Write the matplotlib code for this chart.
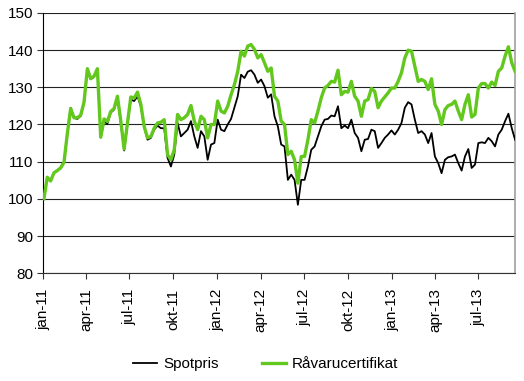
import matplotlib
matplotlib.use("Agg")
import matplotlib.pyplot as plt
import pandas as pd

plt.rcParams['font.family'] = ['Liberation Sans', 'DejaVu Sans']

# weekly index values, both series start at 100 in the first week of 2011
spotpris = [
    100, 105.8, 104.8, 107, 107.6, 108.5, 110, 117.5, 124.5, 121.8,
    121.5, 122.3, 125.8, 135, 132.2, 132.8, 134.8, 116.5, 120.8, 120.2,
    123.2, 124, 127.2, 120.5, 113, 120, 126.7, 126.3, 127.6, 124.9,
    119.3, 115.9, 116.4, 118.6, 119.7, 119, 119, 111, 108.7, 111.9,
    120.4, 116.8, 117.7, 118.6, 120.9, 116.8, 113.7, 118.2, 116.8, 110.5,
    114.6, 115, 121.3, 118.6, 118.2, 120, 121.5, 124.5, 127.6, 133.4,
    132.5, 134.2, 134.6, 133.4, 131.2, 132.1, 130.3, 127.2, 128.1, 122.2,
    119.5, 114.6, 114.1, 105.1, 106.5, 105.1, 98.4, 105.1, 105.1, 108.7,
    113.2, 114.1, 116.8, 119.5, 121.3, 121.5, 122.4, 122.2, 124.9, 119,
    119.7, 119, 121.3, 117.7, 116.4, 112.8, 115.9, 116.1, 118.6, 118.2,
    113.7, 115, 116.4, 117.3, 118.4, 117.3, 118.6, 120.4, 124.5, 126,
    125.4, 121.3, 117.7, 118.2, 117.3, 115, 117.7, 111.4, 109.6, 106.9,
    110.5, 111.2, 111.4, 111.9, 109.6, 107.6, 111.4, 113.4, 108.3, 109.2,
    115, 115.2, 115, 116.4, 115.5, 114.1, 117.3, 118.6, 120.9, 122.9,
    119, 115.9,
]

ravarucertifikat = [
    100, 105.8, 104.8, 107, 107.6, 108.3, 109.8, 117.5, 124.3, 121.8,
    121.8, 122.5, 126, 135, 132.3, 133, 135, 116.6, 121.5, 120.8,
    123.5, 124.3, 127.6, 121, 113.4, 120.3, 127.4, 127.1, 128.7, 125.4,
    119.5, 116.4, 116.8, 119, 120.4, 120.6, 121.3, 111.9, 110.5, 113.2,
    122.7, 121.3, 121.8, 122.7, 125.1, 120.9, 118.6, 122.2, 121.3, 116.4,
    120, 120, 126.3, 123.6, 123.1, 124.9, 128, 130.7, 134.3, 139.7,
    138.4, 141.1, 141.5, 140.2, 137.9, 138.8, 136.6, 134.3, 135.2, 127.6,
    126.3, 120.9, 120, 111.9, 112.8, 110.5, 104.2, 111.4, 111.4, 115.9,
    121.3, 120.4, 123.6, 127.2, 129.8, 130.5, 131.6, 131.4, 134.6, 128,
    128.9, 128.7, 131.6, 127.6, 126.3, 122.2, 126.3, 126.7, 129.7, 128.9,
    124.5, 126.3, 127.4, 128.5, 129.8, 129.8, 131.6, 133.9, 137.9, 140,
    139.7, 135.7, 131.6, 132.1, 131.6, 129.4, 132.3, 125.4, 123.6, 120,
    124, 125.1, 125.4, 126.3, 123.6, 121.3, 125.4, 128, 122, 122.7,
    129.8, 131, 131, 129.8, 131.4, 130.5, 134.3, 135.2, 138.4, 140.9,
    136.6, 134.3,
]

tick_dates = ['2011-01-01', '2011-04-01', '2011-07-01', '2011-10-01',
              '2012-01-01', '2012-04-01', '2012-07-01', '2012-10-01',
              '2013-01-01', '2013-04-01', '2013-07-01']
tick_labels = ['jan-11', 'apr-11', 'jul-11', 'okt-11', 'jan-12', 'apr-12',
               'jul-12', 'okt-12', 'jan-13', 'apr-13', 'jul-13']

dates = pd.date_range('2011-01-03', periods=len(spotpris), freq='7D')

fig, ax = plt.subplots(figsize=(5.24, 3.81), dpi=100)
fig.subplots_adjust(left=0.082, right=0.983, top=0.966, bottom=0.283)

ax.plot(dates, spotpris, color='black', lw=1.3, label='Spotpris', zorder=3)
ax.plot(dates, ravarucertifikat, color='#62c81e', lw=2.4,
        label='Råvarucertifikat', zorder=4)

ax.set_ylim(80, 150)
ax.set_yticks(range(80, 151, 10))
ax.set_xlim(pd.Timestamp('2011-01-01'), dates[-1])
ax.set_xticks(pd.to_datetime(tick_dates))
ax.set_xticklabels(tick_labels, rotation=90)

ax.grid(axis='y', color='#222222', lw=0.8)
ax.set_axisbelow(True)
ax.spines['top'].set_visible(False)
ax.spines['right'].set_color('#a0a0a0')
ax.spines['right'].set_linewidth(1.2)
ax.spines['left'].set_color('black')
ax.spines['bottom'].set_color('#333333')
ax.tick_params(labelsize=11, length=4, color='#333333')
ax.tick_params(axis='x', pad=7)
ax.tick_params(axis='y', pad=3)

fig.legend(loc='center', bbox_to_anchor=(0.507, 0.045), ncol=2, frameon=False,
           fontsize=11, handlelength=1.6, handletextpad=0.4, columnspacing=2.8)

fig.savefig('out.png', dpi=100)
